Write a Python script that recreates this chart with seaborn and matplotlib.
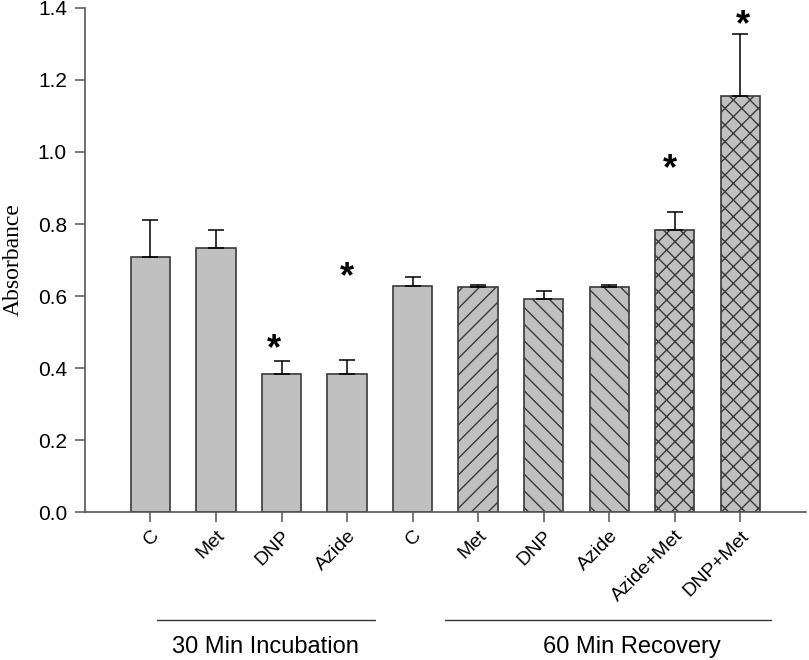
import matplotlib
matplotlib.use("Agg")
import matplotlib.pyplot as plt
import matplotlib.transforms as mtransforms
import seaborn as sns
import numpy as np

# data
labels = ['C', 'Met', 'DNP', 'Azide', 'C', 'Met', 'DNP', 'Azide', 'Azide+Met', 'DNP+Met']
absorbance = [0.708, 0.733, 0.384, 0.384, 0.629, 0.626, 0.592, 0.626, 0.783, 1.156]
sem = [0.102, 0.051, 0.036, 0.039, 0.025, 0.005, 0.023, 0.005, 0.051, 0.172]
hatches = ['', '', '', '', '', '//', '\\\\', '\\\\', 'xx', 'xx']
star_bars = [2, 3, 8, 9]
star_x_shift = [-0.11, 0.0, -0.07, 0.04]
star_y = [0.45, 0.652, 0.952, 1.35]
groups = ['30 Min Incubation', '60 Min Recovery']

sns.set_style('white')
plt.rcParams['font.family'] = ['Liberation Sans', 'DejaVu Sans']
plt.rcParams['hatch.linewidth'] = 1.0
plt.rcParams['hatch.color'] = 'black'
plt.rcParams['text.color'] = 'black'
plt.rcParams['xtick.color'] = 'black'
plt.rcParams['ytick.color'] = 'black'
plt.rcParams['axes.labelcolor'] = 'black'

fig = plt.figure(figsize=(8.09, 6.6), dpi=100)
ax = fig.add_axes([0.105, 0.2242, 0.891, 0.7637])

pos = list(range(len(labels)))
sns.barplot(x=pos, y=absorbance, color='#c0c0c0', saturation=1, width=0.6,
            edgecolor='#3a3a3a', linewidth=1.2, ax=ax)
for patch, h in zip(ax.patches, hatches):
    patch.set_hatch(h)

ax.errorbar(pos, absorbance, yerr=[np.zeros(len(sem)), sem], fmt='none',
            ecolor='black', elinewidth=1.1, capsize=5.5, capthick=1.1)

for i, dx, y in zip(star_bars, star_x_shift, star_y):
    ax.text(i + dx, y, '*', ha='center', va='center', fontsize=26, fontweight='bold')

ax.set_xlim(-1, 10)
ax.set_ylim(0, 1.4)
ax.set_yticks(np.arange(0, 1.41, 0.2))
ax.set_yticklabels([f'{v:.1f}' for v in np.arange(0, 1.41, 0.2)], fontsize=15)
ax.set_xticks(pos)
ax.set_xticklabels(labels, rotation=45, ha='right', rotation_mode='anchor', fontsize=14)
ax.tick_params(axis='both', direction='out', length=7, width=1.1, color='#555555', bottom=True, left=True)
ax.tick_params(axis='y', pad=6)
ax.tick_params(axis='x', pad=4)
for s in ['top', 'right']:
    ax.spines[s].set_visible(False)
for s in ['left', 'bottom']:
    ax.spines[s].set_color('#555555')
    ax.spines[s].set_linewidth(1.2)

ax.set_ylabel('Absorbance', family='Liberation Serif', fontsize=17, labelpad=10)

trans = mtransforms.blended_transform_factory(ax.transData, ax.transAxes)
ax.plot([0.1, 3.42], [-0.214, -0.214], color='#333333', lw=1, transform=trans, clip_on=False)
ax.plot([4.5, 9.47], [-0.214, -0.214], color='#333333', lw=1, transform=trans, clip_on=False)
ax.text(1.76, -0.268, groups[0], transform=trans, ha='center', va='center', fontsize=17)
ax.text(7.35, -0.268, groups[1], transform=trans, ha='center', va='center', fontsize=17)

fig.savefig('out.png', dpi=100)
